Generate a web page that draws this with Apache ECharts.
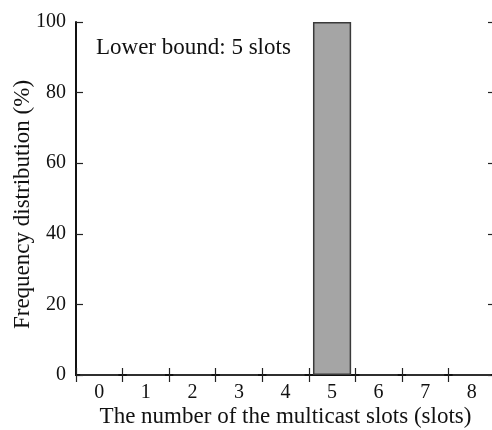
<!DOCTYPE html>
<html>
<head>
<meta charset="utf-8">
<script src="https://cdn.jsdelivr.net/npm/echarts@6/dist/echarts.min.js"></script>
<style>
html,body{margin:0;padding:0;background:#fff;}
#chart{width:492px;height:430px;}
</style>
</head>
<body>
<div id="chart"></div>
<script>
var categories = ['0','1','2','3','4','5','6','7','8'];
var frequency = [0, 0, 0, 0, 0, 100, 0, 0, 0];
var yTicks = [0, 20, 40, 60, 80, 100];
var annotation = 'Lower bound: 5 slots';
var xTitle = 'The number of the multicast slots (slots)';
var yTitle = 'Frequency distribution (%)';

var FONT = 'Liberation Serif';
var chart = echarts.init(document.getElementById('chart'), null, {renderer: 'canvas'});
var tickStyle = {show: true, inside: true, length: 7, lineStyle: {color: '#222', width: 1.2}};
var lineStyle = {show: true, lineStyle: {color: '#111', width: 2}};
chart.setOption({
  animation: false,
  backgroundColor: '#fff',
  grid: {left: 76, right: -3, top: 22, bottom: 55, containLabel: false, outerBoundsMode: 'none'},
  xAxis: [{
    type: 'category', data: categories, position: 'bottom', boundaryGap: true,
    axisLine: lineStyle, axisTick: tickStyle,
    axisLabel: {color: '#111', fontFamily: FONT, fontSize: 20, margin: 8},
    name: xTitle, nameLocation: 'middle', nameGap: 30, nameMoveOverlap: false,
    nameTextStyle: {color: '#111', fontFamily: FONT, fontSize: 23},
    splitLine: {show: false}
  }, {
    type: 'category', data: categories, position: 'top', boundaryGap: true,
    axisLine: lineStyle, axisTick: tickStyle, axisLabel: {show: false}, splitLine: {show: false}
  }],
  yAxis: [{
    type: 'value', min: yTicks[0], max: yTicks[yTicks.length - 1], interval: 20, position: 'left',
    axisLine: lineStyle, axisTick: tickStyle,
    axisLabel: {color: '#111', fontFamily: FONT, fontSize: 20, margin: 10},
    name: yTitle, nameLocation: 'middle', nameGap: 42, nameMoveOverlap: false,
    nameTextStyle: {color: '#111', fontFamily: FONT, fontSize: 23, padding: [0, 12, 0, 0]},
    splitLine: {show: false}
  }, {
    type: 'value', min: yTicks[0], max: yTicks[yTicks.length - 1], interval: 20, position: 'right',
    axisLine: lineStyle, axisTick: tickStyle, axisLabel: {show: false}, splitLine: {show: false}
  }],
  graphic: [{
    type: 'text', left: 96, top: 36, z: 100,
    style: {text: annotation, font: '23px "Liberation Serif"', fill: '#111'}
  }],
  series: [{
    type: 'bar', data: frequency, barWidth: '82%', xAxisIndex: 0, yAxisIndex: 0,
    itemStyle: {color: '#a5a5a5', borderColor: '#3a3a3a', borderWidth: 1.5}
  }]
});
</script>
</body>
</html>
